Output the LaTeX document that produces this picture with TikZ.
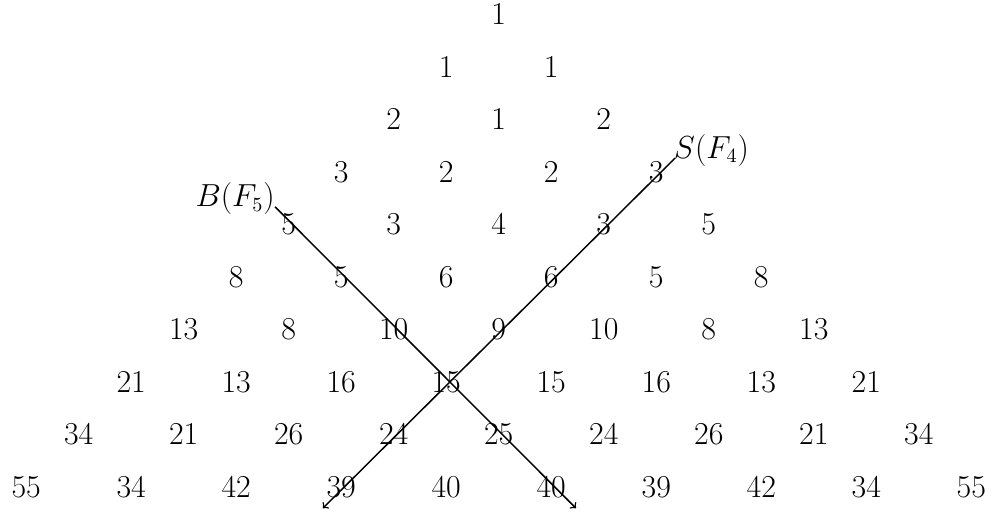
\documentclass[tikz,border=0pt]{standalone}
\usetikzlibrary{calc}
\begin{document}
\begin{tikzpicture}[x=1cm,y=-1cm,
  entry/.style={inner sep=0pt,font=\fontsize{16}{19}\selectfont},
  lbl/.style={inner sep=0pt,font=\fontsize{16}{19}\selectfont},
  diag/.style={->,line width=0.8pt}]
\useasboundingbox (0,0) rectangle (18.99,9.79);
\foreach \r/\vals in {0/{1},1/{1,1},2/{2,1,2},3/{3,2,2,3},4/{5,3,4,3,5},
  5/{8,5,6,6,5,8},6/{13,8,10,9,10,8,13},7/{21,13,16,15,15,16,13,21},
  8/{34,21,26,24,25,24,26,21,34},9/{55,34,42,39,40,40,39,42,34,55}}{
  \foreach \v [count=\k from 0] in \vals {
    \node[entry] (h-\r-\k) at ({9.5+2*\k-\r},{0.28+\r}) {$\v$};
  }
}
\coordinate (sA) at (12.86,3.01);
\coordinate (sB) at (6.15,9.68);
\coordinate (bA) at (5.24,3.94);
\coordinate (bB) at (10.97,9.68);
\draw[diag] (sA) -- (sB);
\draw[diag] (bA) -- (bB);
\node[lbl,anchor=base west] (sl) at ($(sA)+(-0.03,0)$) {$S(F_4)$};
\node[lbl,anchor=base east] (bl) at ($(bA)+(0.0,0)$) {$B(F_5)$};
\end{tikzpicture}
\end{document}
